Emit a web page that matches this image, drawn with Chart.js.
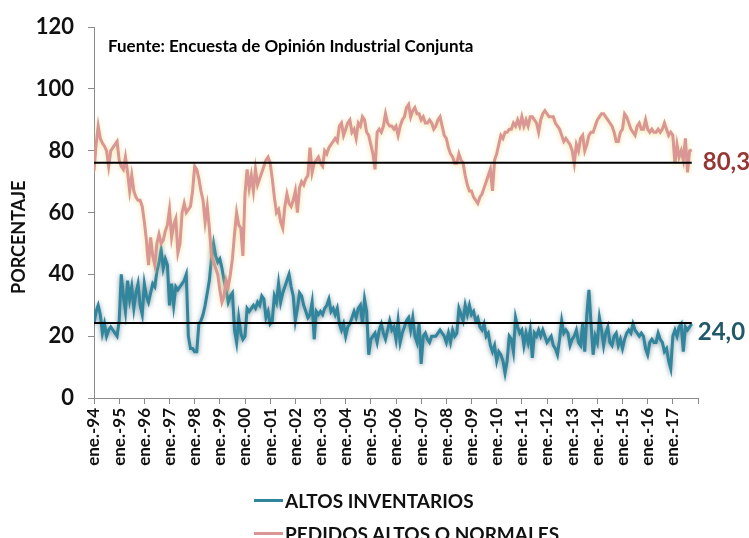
<!DOCTYPE html>
<html><head><meta charset="utf-8">
<script src="https://cdn.jsdelivr.net/npm/chart.js@4"></script>
<style>
html,body{margin:0;padding:0;background:#fff;overflow:hidden}
#wrap{position:relative;width:749px;height:538px}
canvas{position:absolute;left:0;top:0}
.leg{position:absolute;left:254px;height:20px;font:bold 19px Lato, sans-serif;color:#111;white-space:nowrap;display:flex;align-items:center}
.leg .sw{display:inline-block;width:29px;height:3px;margin-right:2px}
</style></head>
<body><div id="wrap"><canvas id="c" width="749" height="538"></canvas><div id="legend"></div></div>
<script>
const tickLabels = ['ene.-94','ene.-95','ene.-96','ene.-97','ene.-98','ene.-99','ene.-00','ene.-01','ene.-02','ene.-03','ene.-04','ene.-05','ene.-06','ene.-07','ene.-08','ene.-09','ene.-10','ene.-11','ene.-12','ene.-13','ene.-14','ene.-15','ene.-16','ene.-17'];
const seriesNames = ['ALTOS INVENTARIOS','PEDIDOS ALTOS O NORMALES'];
const sourceNote = 'Fuente: Encuesta de Opinión Industrial Conjunta';
const yTitle = 'PORCENTAJE';
// monthly values, ene-94 .. oct-17
const inventarios = [
24,28,30,27,21,24,20,22,23,22,21,20,
25,40,33,28,38,32,36,29,34,37,30,27,
37,33,31,34,37,36,41,44,48,42,45,43,
30,37,30,36,35,36,37,38,40,20,16,16,
15,15,24,25,27,30,34,38,45,50,46,44,
45,42,38,35,31,33,34,22,18,26,21,19,
20,29,28,29,30,29,31,30,33,32,26,28,
24,25,33,31,37,31,34,36,38,40,36,33,
25,29,34,33,30,28,26,27,31,19,28,27,
28,27,29,30,32,28,29,27,29,24,22,24,
20,23,24,26,28,26,29,30,24,32,28,14,
19,20,21,18,22,24,21,19,22,25,22,23,
19,25,18,21,23,25,26,22,26,20,18,24,
11,20,21,19,18,20,20,20,21,22,21,20,
18,21,18,22,20,21,29,27,25,30,27,30,
27,28,25,26,23,22,24,20,21,17,15,17,
12,15,14,12,8,12,20,19,15,26,23,21,
22,17,21,18,22,13,21,20,22,20,22,20,
18,19,20,17,16,14,19,25,21,22,21,17,
19,20,22,18,17,24,15,27,35,24,14,20,
18,26,22,17,21,23,18,17,20,21,17,19,
16,19,21,22,21,24,22,21,20,21,20,16,
14,18,19,18,18,21,19,18,15,16,12,9.5,
20,22,20,23,24,15,23,22,23,24.0
];
const pedidos = [
73.5,82,88,84,82.5,81.5,80,75,80,81,82,83,
77,75,74,78,73,67,72,67,65,64,64,62,
57,51,43,52,46,43,50,53,50,51,54,56,
61,52,56,58,47,50,60,63,60,61,62,67,
75,74,71,67,64,57,62,55,46,44,42,40,
35,31,33,38,36,40,45,53,60,56,55,46,
66,74,68,72,67,74,69,71,73,75,77,78,
76,71,65,60,61,57,55,62,66,63,62,64,
67,60,68,70,69,71,72,81,73,76,77,78,
76,75,80,79,81,82,83,84,83,88,89,85,
87,89,90,86,87,84,89,88,91,90,86,85,
82,79,74,86,87,86,88,92,89,88,88,87,
88,85,88,90,91,94,95,91,93,94,92,92,
90,91,89,89,90,89,87,88,90,91,88,85,
84,81,79,78,76,76,79,77,76,72,69,67,
67,65,64,63,65,66,68,70,72,74,67,77,
79,82,85,84,86,86,87,87,89,88,90,88,
91,88,90,88,91,91,90,89,86,90,92,93,
92,91,91,91,89,88,87,85,83,84,83,82,
80,76,82,80,84,85,80,82,85,86,86,88,
90,91,92,92,91,90,89,88,86,83,83,86,
87,92,91,89,87,86,85,88,89,87,87,90,
87,86,87,86,86,87,86,87,89,87,85,86,
85,76,82,78,80,77,84,73,80,80.3
];
const promedios = [24.3, 76.1]; // inventarios, pedidos
const colors = ['#31859C', '#D99694'];
const labelColors = ['#215968', '#953735'];
const FONT = 'Lato, "Open Sans", sans-serif';

const toPts = arr => arr.map((v, i) => ({x: i, y: v}));
const lastIdx = pedidos.length - 1;

const extras = {
  id: 'extras',
  beforeDatasetDraw(chart, args) {
    const ds = chart.data.datasets[args.index];
    if (ds.glow) { const c = chart.ctx; c.save(); c.shadowColor = ds.glow; c.shadowBlur = 5; c.shadowOffsetY = 1; }
  },
  afterDatasetDraw(chart, args) {
    if (chart.data.datasets[args.index].glow) chart.ctx.restore();
  },
  afterDraw(chart) {
    const c = chart.ctx, xs = chart.scales.x, ys = chart.scales.y, a = chart.chartArea;
    c.save();
    c.fillStyle = '#000';
    c.font = 'bold 17px ' + FONT;
    c.textBaseline = 'middle';
    c.textAlign = 'left';
    c.fillText(sourceNote, a.left + 14, a.top + 19);
    // y-axis title
    c.save();
    c.fillStyle = '#111';
    c.font = 'bold 18px ' + FONT;
    c.translate(19, ys.getPixelForValue(52));
    c.rotate(-Math.PI / 2);
    c.textAlign = 'center';
    c.fillText(yTitle, 0, 0);
    c.restore();
    c.font = 'bold 24px ' + FONT;
    const series = [inventarios, pedidos];
    const offs = [[6, 8], [11, 12]];
    series.forEach((s, k) => {
      const v = s[s.length - 1];
      c.fillStyle = labelColors[k];
      c.fillText(v.toFixed(1).replace('.', ','), xs.getPixelForValue(s.length - 1) + offs[k][0], ys.getPixelForValue(v) + offs[k][1]);
    });
    c.restore();
  }
};

new Chart(document.getElementById('c'), {
  type: 'line',
  data: {
    datasets: [
      {label: seriesNames[0], data: toPts(inventarios), borderColor: colors[0], borderWidth: 3, pointRadius: 0, order: 2, glow: 'rgba(20,70,90,0.55)'},
      {label: seriesNames[1], data: toPts(pedidos), borderColor: colors[1], borderWidth: 3, pointRadius: 0, order: 1, glow: 'rgba(235,215,120,0.7)'},
      {label: 'prom0', data: [{x: 0, y: promedios[0]}, {x: lastIdx, y: promedios[0]}], borderColor: '#000', borderWidth: 2, pointRadius: 0, order: 0},
      {label: 'prom1', data: [{x: 0, y: promedios[1]}, {x: lastIdx, y: promedios[1]}], borderColor: '#000', borderWidth: 2, pointRadius: 0, order: 0}
    ]
  },
  options: {
    responsive: false, animation: false, events: [],
    layout: {padding: {top: 23, right: 51, left: 0, bottom: 0}},
    plugins: {legend: {display: false}, tooltip: {enabled: false}},
    scales: {
      x: {
        type: 'linear', min: 0, max: tickLabels.length * 12,
        ticks: {stepSize: 12, autoSkip: false, minRotation: 90, maxRotation: 90, padding: 4,
          callback: v => tickLabels[v / 12] ?? '',
          font: {family: FONT, weight: 'bold', size: 17}, color: '#111'},
        grid: {drawOnChartArea: false, drawTicks: true, tickLength: 6, color: '#8a8a8a'},
        border: {color: '#8a8a8a', width: 1},
        afterFit: s => { s.height = 140; }
      },
      y: {
        min: 0, max: 120,
        ticks: {stepSize: 20, padding: 14, font: {family: FONT, weight: 'bold', size: 22}, color: '#111'},
        grid: {drawOnChartArea: false, drawTicks: true, tickLength: 6, color: '#8a8a8a'},
        border: {color: '#8a8a8a', width: 1},
        title: {display: false},
        afterFit: s => { s.width = 94; }
      }
    }
  },
  plugins: [extras]
});

// HTML legend
const leg = document.getElementById('legend');
const tops = [490, 523];
seriesNames.forEach((n, i) => {
  const d = document.createElement('div');
  d.className = 'leg';
  d.style.top = tops[i] + 'px';
  const sw = document.createElement('span');
  sw.className = 'sw';
  sw.style.background = colors[i];
  d.appendChild(sw);
  d.appendChild(document.createTextNode(n));
  leg.appendChild(d);
});
</script>
</body></html>
